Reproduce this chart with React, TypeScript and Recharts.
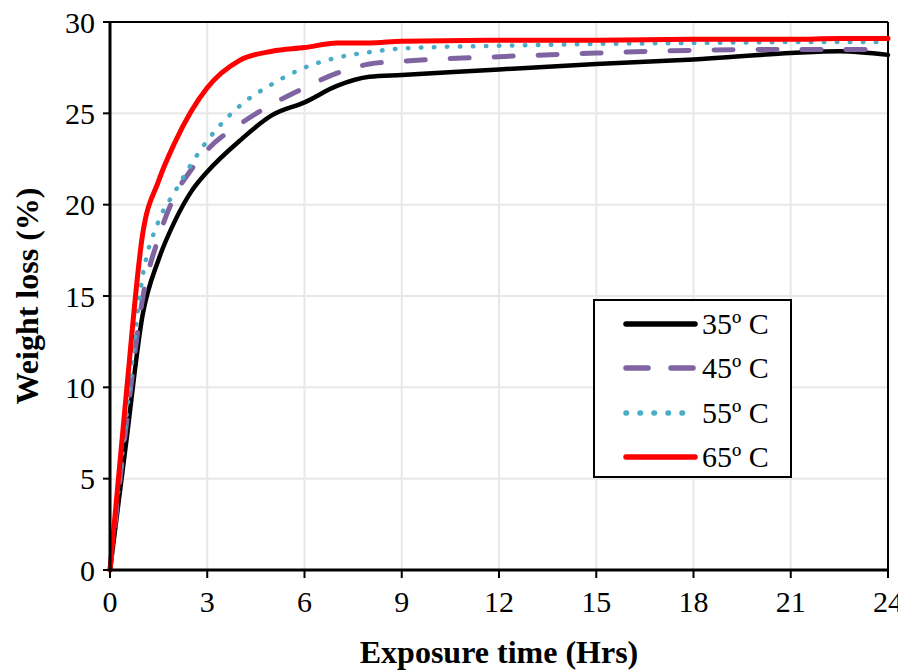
import React from 'react';
import {
  LineChart,
  Line,
  XAxis,
  YAxis,
  CartesianGrid,
  ReferenceLine,
  Legend,
} from 'recharts';

const hours = [0, 0.5, 1, 1.5, 2, 2.5, 3, 4, 5, 6, 7, 8, 9, 12, 15, 18, 21, 22.5, 24];
const loss35 = [0, 7.0, 13.9, 17.0, 19.1, 20.7, 21.8, 23.5, 24.9, 25.6, 26.5, 27.0, 27.1, 27.4, 27.7, 27.95, 28.3, 28.4, 28.2];
const loss45 = [0, 7.9, 14.8, 18.2, 20.5, 21.9, 23.0, 24.4, 25.5, 26.4, 27.2, 27.7, 27.85, 28.1, 28.3, 28.45, 28.5, 28.5, 28.5];
const loss55 = [0, 8.3, 16.0, 19.1, 20.7, 22.2, 23.5, 25.4, 26.6, 27.5, 28.05, 28.35, 28.55, 28.7, 28.8, 28.85, 28.9, 28.9, 28.9];
const loss65 = [0, 9.6, 18.3, 21.3, 23.4, 25.1, 26.4, 27.9, 28.4, 28.6, 28.85, 28.85, 28.95, 29.0, 29.0, 29.05, 29.05, 29.1, 29.1];

const xTicks = [0, 3, 6, 9, 12, 15, 18, 21, 24];
const yTicks = [0, 5, 10, 15, 20, 25, 30];

const seriesNames = ['35º C', '45º C', '55º C', '65º C'];

const series = [
  { key: 't35', name: seriesNames[0], color: '#000000', width: 4.5, dash: undefined, legendDash: undefined },
  { key: 't45', name: seriesNames[1], color: '#8064A2', width: 5, dash: '19 25', legendDash: '22 23' },
  { key: 't55', name: seriesNames[2], color: '#4BACC6', width: 4.5, dash: '0.5 12.5', legendDash: '0.5 13.5' },
  { key: 't65', name: seriesNames[3], color: '#FF0000', width: 5, dash: undefined, legendDash: undefined },
];

const data = hours.map((h, i) => ({
  h,
  t35: loss35[i],
  t45: loss45[i],
  t55: loss55[i],
  t65: loss65[i],
}));

const serif = '"Liberation Serif", "Times New Roman", serif';

const YTitle = (props: any) => {
  const { x, y, height } = props.viewBox;
  const cx = x + 19;
  const cy = y + height / 2;
  return (
    <text
      x={cx}
      y={cy}
      transform={`rotate(-90, ${cx}, ${cy})`}
      textAnchor="middle"
      dominantBaseline="central"
      fontFamily={serif}
      fontWeight="bold"
      fontSize={32}
      fill="#000"
    >
      Weight loss (%)
    </text>
  );
};

const XTitle = (props: any) => {
  const { x, y, width } = props.viewBox;
  return (
    <text
      x={x + width / 2}
      y={y + 93}
      textAnchor="middle"
      fontFamily={serif}
      fontWeight="bold"
      fontSize={32}
      fill="#000"
    >
      Exposure time (Hrs)
    </text>
  );
};

const LegendBox = () => (
  <div
    style={{
      width: 195,
      height: 175,
      border: '2px solid #000',
      background: '#fff',
      boxSizing: 'content-box',
      fontFamily: serif,
      fontSize: 30,
      color: '#000',
      position: 'relative',
    }}
  >
    {series.map((s, i) => (
      <div
        key={s.key}
        style={{
          position: 'absolute',
          left: 0,
          top: 3 + i * 44.3,
          height: 40,
          display: 'flex',
          alignItems: 'center',
          whiteSpace: 'nowrap',
        }}
      >
        <svg width={107} height={40} style={{ display: 'block' }}>
          <line
            x1={31}
            x2={100}
            y1={20}
            y2={20}
            stroke={s.color}
            strokeWidth={5.5}
            strokeLinecap="round"
            strokeDasharray={s.legendDash}
          />
        </svg>
        <span style={{ lineHeight: '40px' }}>{s.name}</span>
      </div>
    ))}
  </div>
);

export default function App() {
  return (
    <div style={{ width: 906, height: 670, position: 'relative', margin: '-8px 0 0 -8px' }}>
      <LineChart
        width={906}
        height={670}
        data={data}
        margin={{ top: 22, right: 18, bottom: 0, left: 8 }}
      >
        <CartesianGrid stroke="#e8e8e8" strokeWidth={2} />
        <XAxis
          dataKey="h"
          type="number"
          domain={[0, 24]}
          ticks={xTicks}
          interval={0}
          height={100}
          axisLine={{ stroke: '#000', strokeWidth: 3 }}
          tickLine={{ stroke: '#000', strokeWidth: 2 }}
          tickSize={8}
          tickMargin={13}
          tick={{ fontSize: 30, fontFamily: serif, fill: '#000' }}
          label={<XTitle />}
        />
        <YAxis
          type="number"
          domain={[0, 30]}
          ticks={yTicks}
          interval={0}
          width={102}
          axisLine={{ stroke: '#000', strokeWidth: 3 }}
          tickLine={{ stroke: '#000', strokeWidth: 2 }}
          tickSize={7}
          tickMargin={8}
          tick={{ fontSize: 30, fontFamily: serif, fill: '#000' }}
          label={<YTitle />}
        />
        <ReferenceLine y={30} stroke="#000" strokeWidth={2} />
        <ReferenceLine x={24} stroke="#000" strokeWidth={2} />
        {series.map((s) => (
          <Line
            key={s.key}
            type="monotone"
            dataKey={s.key}
            name={s.name}
            stroke={s.color}
            strokeWidth={s.width}
            strokeDasharray={s.dash}
            strokeLinecap="round"
            dot={false}
            activeDot={false}
            isAnimationActive={false}
          />
        ))}
        <Legend
          layout="horizontal"
          verticalAlign="middle"
          align="center"
          content={<LegendBox />}
          wrapperStyle={{ left: 593, top: 299, width: 199, height: 179 }}
        />
      </LineChart>
    </div>
  );
}
